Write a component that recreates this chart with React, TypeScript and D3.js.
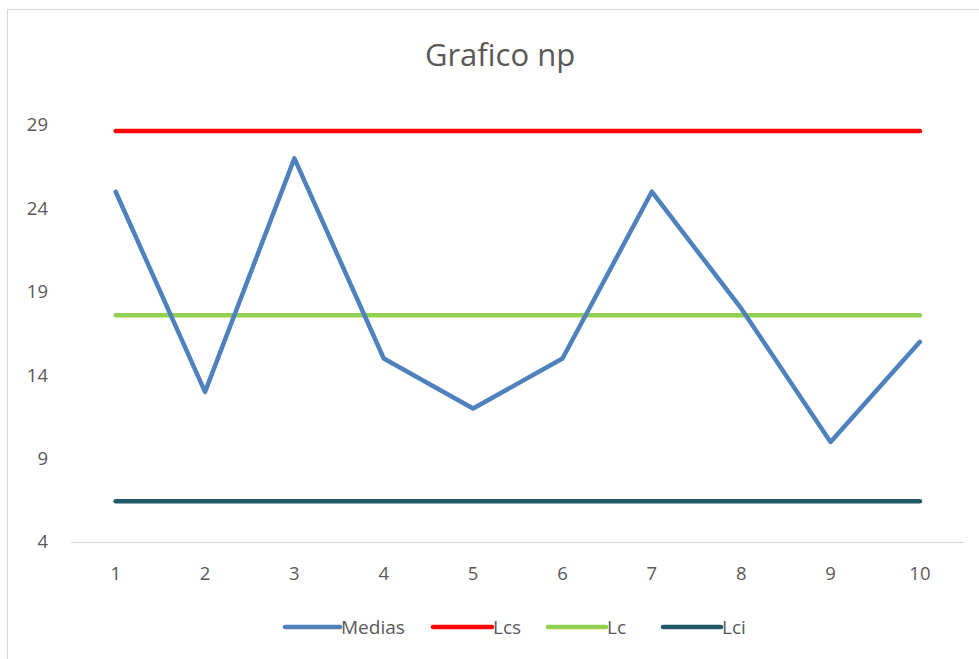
import React from "react";
import * as d3 from "d3";

const categories = ["1", "2", "3", "4", "5", "6", "7", "8", "9", "10"];
const medias = [25, 13, 27, 15, 12, 15, 25, 18, 10, 16];
const lcs = [28.64, 28.64, 28.64, 28.64, 28.64, 28.64, 28.64, 28.64, 28.64, 28.64];
const lc = [17.6, 17.6, 17.6, 17.6, 17.6, 17.6, 17.6, 17.6, 17.6, 17.6];
const lci = [6.44, 6.44, 6.44, 6.44, 6.44, 6.44, 6.44, 6.44, 6.44, 6.44];
const yTicks = [4, 9, 14, 19, 24, 29];

const seriesNames = ["Medias", "Lcs", "Lc", "Lci"];
const seriesColors = ["#4F81BD", "#FF0000", "#92D050", "#215968"];

const W = 979;
const H = 659;
const FONT = "'Open Sans', 'Noto Sans', sans-serif";

export default function App() {
  const x = d3.scaleBand<string>().domain(categories).range([71, 964.6]);
  const y = d3.scaleLinear().domain([4, 29]).range([542, 125]);
  const cx = (c: string) => (x(c) as number) + x.bandwidth() / 2;

  const line = d3
    .line<number>()
    .x((_, i) => cx(categories[i]))
    .y((v) => y(v));

  const allSeries = [medias, lcs, lc, lci];
  // draw control limits first, the measured series on top
  const drawOrder = [1, 2, 3, 0];

  const legendItems = [
    { x: 285, w: 55 },
    { x: 433, w: 59 },
    { x: 548, w: 58 },
    { x: 663, w: 58 },
  ];

  return (
    <svg
      width={W}
      height={H}
      style={{ position: "absolute", left: 0, top: 0, background: "#fff" }}
      fontFamily={FONT}
    >
      <rect x={7.5} y={9.5} width={W + 10} height={H + 10} fill="#fff" stroke="#D9D9D9" />
      <text x={500} y={66} textAnchor="middle" fontSize={31} fill="#595959">
        Grafico np
      </text>

      {/* y axis labels */}
      {yTicks.map((t) => (
        <text key={t} x={48} y={y(t)} dy="0.35em" textAnchor="end" fontSize={18.5} fill="#595959">
          {t}
        </text>
      ))}

      {/* category axis */}
      <line x1={71} x2={964.6} y1={542.5} y2={542.5} stroke="#D9D9D9" strokeWidth={1} />
      {categories.map((c) => (
        <text key={c} x={cx(c)} y={574} dy="0.35em" textAnchor="middle" fontSize={18.5} fill="#595959">
          {c}
        </text>
      ))}

      {drawOrder.map((si) => (
        <path
          key={si}
          d={line(allSeries[si]) || ""}
          fill="none"
          stroke={seriesColors[si]}
          strokeWidth={4.5}
          strokeLinecap="round"
          strokeLinejoin="round"
        />
      ))}

      {/* legend */}
      {seriesNames.map((n, i) => (
        <g key={n}>
          <line
            x1={legendItems[i].x}
            x2={legendItems[i].x + legendItems[i].w}
            y1={627}
            y2={627}
            stroke={seriesColors[i]}
            strokeWidth={4.5}
            strokeLinecap="round"
          />
          <text x={legendItems[i].x + legendItems[i].w + 1} y={627} dy="0.35em" fontSize={19} fill="#595959">
            {n}
          </text>
        </g>
      ))}
    </svg>
  );
}
